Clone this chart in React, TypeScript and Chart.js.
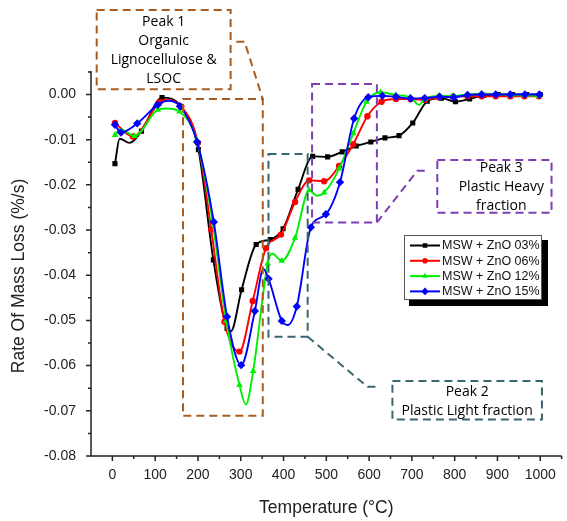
import React, { useEffect, useRef } from 'react';
import { Chart, registerables } from 'chart.js';

Chart.register(...registerables);

const FONT = '"Liberation Sans", Arial, Helvetica, sans-serif';
const NOTE_FONT = '"Open Sans", "Noto Sans", sans-serif';

// ---------------- data ----------------
const seriesLabels = ['MSW + ZnO 03%', 'MSW + ZnO 06%', 'MSW + ZnO 12%', 'MSW + ZnO 15%'];
const seriesColors = ['#000000', '#FF0000', '#00EE00', '#0000FF'];
const seriesMarkers = ['rect', 'circle', 'triangle', 'rectRot'];

// MSW + ZnO 03% (marked points)
const t03 = [6, 68, 116, 161, 201, 236, 268, 302, 336, 369, 399, 434, 468, 503, 537, 570, 604, 637, 670, 702, 736, 769, 802, 835, 868, 902, 935, 968, 1000];
const v03 = [-0.0153, -0.0081, -0.0007, -0.0027, -0.0122, -0.0366, -0.0518, -0.0432, -0.0332, -0.0321, -0.0297, -0.0210, -0.0137, -0.0138, -0.0127, -0.0114, -0.0105, -0.0096, -0.0091, -0.0063, -0.0015, -0.0008, -0.0016, -0.0010, -0.0002, 0.0000, 0.0000, 0.0000, 0.0000];
// unmarked bends of the smoothed curve
const bendT03 = [17, 40, 277];
const bendV03 = [-0.0098, -0.0107, -0.0524];

// MSW + ZnO 06%
const t06 = [6, 48, 110, 161, 200, 231, 262, 297, 328, 359, 394, 427, 460, 495, 530, 563, 596, 629, 663, 697, 730, 763, 796, 830, 863, 896, 930, 963, 997];
const v06 = [-0.0063, -0.0093, -0.0017, -0.0027, -0.0107, -0.0299, -0.0503, -0.0569, -0.0457, -0.0340, -0.0310, -0.0238, -0.0190, -0.0192, -0.0158, -0.0110, -0.0048, -0.0016, -0.0010, -0.0010, -0.0012, -0.0006, -0.0005, -0.0004, -0.0004, -0.0004, -0.0004, -0.0004, -0.0004];
const bendT06 = [122];
const bendV06 = [-0.0012];

// MSW + ZnO 12%
const t12 = [6, 52, 106, 157, 197, 233, 266, 297, 329, 363, 396, 427, 460, 495, 530, 563, 594, 627, 662, 696, 730, 763, 796, 830, 863, 896, 930, 963, 997];
const v12 = [-0.0090, -0.0092, -0.0034, -0.0038, -0.0101, -0.0274, -0.0501, -0.0643, -0.0612, -0.0374, -0.0368, -0.0317, -0.0212, -0.0217, -0.0164, -0.0086, -0.0016, 0.0005, -0.0001, -0.0006, -0.0010, -0.0003, -0.0003, 0.0000, 0.0002, 0.0001, -0.0001, -0.0002, -0.0003];
const bendT12 = [18, 128, 312, 373, 478, 717];
const bendV12 = [-0.0076, -0.0031, -0.0686, -0.0352, -0.0224, -0.0023];

// MSW + ZnO 15%
const t15 = [6, 20, 58, 106, 158, 198, 237, 268, 301, 333, 365, 396, 431, 464, 499, 532, 565, 598, 631, 663, 697, 730, 765, 798, 830, 863, 896, 930, 964, 998];
const v15 = [-0.0067, -0.0084, -0.0064, -0.0023, -0.0026, -0.0105, -0.0282, -0.0492, -0.0599, -0.0479, -0.0408, -0.0501, -0.0469, -0.0294, -0.0265, -0.0194, -0.0053, -0.0006, -0.0003, -0.0005, -0.0009, -0.0008, -0.0005, -0.0006, -0.0001, 0.0000, 0.0000, 0.0000, 0.0000, 0.0000];
const bendT15 = [130, 353, 410];
const bendV15 = [-0.0014, -0.0386, -0.0510];

// axes
const X_MIN = -50;
const X_MAX = 1050;
const Y_MIN = -0.08;
const Y_MAX = 0.0052;
const xTicks = [0, 100, 200, 300, 400, 500, 600, 700, 800, 900, 1000];
const xMinorTicks = [50, 150, 250, 350, 450, 550, 650, 750, 850, 950, 1050];
const yTicks = [0, -0.01, -0.02, -0.03, -0.04, -0.05, -0.06, -0.07, -0.08];
const yMinorTicks = [0.005, -0.005, -0.015, -0.025, -0.035, -0.045, -0.055, -0.065, -0.075];
const xTitle = 'Temperature (°C)';
const yTitle = 'Rate Of Mass Loss (%/s)';

// annotation callouts (data coordinates)
const BROWN = '#A85C1F';
const TEAL = '#3A6670';
const PURPLE = '#7D3DB3';
const notes = [
  {
    color: BROWN,
    box: [165, 351.5, -0.001, -0.0711],
    link: [[289.6, 0.0117], [308.9, 0.0117], [351.5, -0.001]],
    label: [-36.7, 276.3, 0.0187, 0.00115],
    text: ['Peak 1', 'Organic', 'Lignocellulose &', 'LSOC'],
    textX: null as number | null,
  },
  {
    color: TEAL,
    box: [364.8, 456.4, -0.01318, -0.0536],
    link: [[456.4, -0.0536], [596.3, -0.0647], [623.6, -0.0647]],
    label: [654.5, 1004, -0.0634, -0.0719],
    text: ['Peak 2', 'Plastic Light fraction'],
    textX: null as number | null,
  },
  {
    color: PURPLE,
    box: [466.7, 618.2, 0.00233, -0.0283],
    link: [[618.2, -0.0283], [712.8, -0.01687], [736, -0.01687]],
    label: [759.4, 1026.4, -0.0145, -0.02617],
    text: ['Peak 3', 'Plastic Heavy', 'fraction'],
    textX: 909 as number | null,
  },
];

function buildPoints(t: number[], v: number[], bt: number[], bv: number[]) {
  const pts = t.map((x, i) => ({ x, y: v[i], m: true }));
  bt.forEach((x, i) => pts.push({ x, y: bv[i], m: false }));
  pts.sort((a, b) => a.x - b.x);
  return pts;
}

const allSeries = [
  buildPoints(t03, v03, bendT03, bendV03),
  buildPoints(t06, v06, bendT06, bendV06),
  buildPoints(t12, v12, bendT12, bendV12),
  buildPoints(t15, v15, bendT15, bendV15),
];
const markerRadius = [3.6, 3.2, 3.8, 4.2];

function drawMarker(ctx: CanvasRenderingContext2D, style: string, x: number, y: number, r: number, color: string) {
  ctx.save();
  ctx.fillStyle = color;
  ctx.beginPath();
  if (style === 'rect') {
    const s = r * Math.SQRT1_2;
    ctx.rect(x - s, y - s, 2 * s, 2 * s);
  } else if (style === 'circle') {
    ctx.arc(x, y, r, 0, Math.PI * 2);
  } else if (style === 'triangle') {
    ctx.moveTo(x, y - r);
    ctx.lineTo(x + r * 0.866, y + r * 0.5);
    ctx.lineTo(x - r * 0.866, y + r * 0.5);
    ctx.closePath();
  } else {
    ctx.moveTo(x, y - r);
    ctx.lineTo(x + r, y);
    ctx.lineTo(x, y + r);
    ctx.lineTo(x - r, y);
    ctx.closePath();
  }
  ctx.fill();
  ctx.restore();
}

const decorPlugin = {
  id: 'decor',
  afterDatasetsDraw(chart: any) {
    const { ctx, scales } = chart;
    const xs = scales.x;
    const ys = scales.y;
    const px = (v: number) => xs.getPixelForValue(v);
    const py = (v: number) => ys.getPixelForValue(v);
    ctx.save();
    ctx.lineWidth = 2;
    ctx.setLineDash([8, 5]);
    notes.forEach((n) => {
      ctx.strokeStyle = n.color;
      const [bx0, bx1, by0, by1] = n.box;
      ctx.strokeRect(px(bx0), py(by0), px(bx1) - px(bx0), py(by1) - py(by0));
      ctx.beginPath();
      n.link.forEach(([a, b], i) => (i === 0 ? ctx.moveTo(px(a), py(b)) : ctx.lineTo(px(a), py(b))));
      ctx.stroke();
      const [lx0, lx1, ly0, ly1] = n.label;
      const L = px(lx0), R = px(lx1), T = py(ly0), B = py(ly1);
      ctx.strokeRect(L, T, R - L, B - T);
      ctx.save();
      ctx.setLineDash([]);
      ctx.fillStyle = '#000';
      ctx.font = `14px ${NOTE_FONT}`;
      ctx.textAlign = 'center';
      ctx.textBaseline = 'middle';
      const cx = n.textX !== null ? px(n.textX) : (L + R) / 2;
      const cy = (T + B) / 2 + 1;
      const lh = 19;
      n.text.forEach((s, i) => {
        ctx.fillText(s, cx, cy + (i - (n.text.length - 1) / 2) * lh);
      });
      ctx.restore();
    });
    ctx.restore();
  },
  afterDraw(chart: any) {
    const { ctx, chartArea, scales } = chart;
    const xs = scales.x;
    const ys = scales.y;
    ctx.save();
    ctx.strokeStyle = '#222';
    ctx.lineWidth = 1.5;
    ctx.setLineDash([]);
    // axis lines
    ctx.beginPath();
    ctx.moveTo(chartArea.left, chartArea.top);
    ctx.lineTo(chartArea.left, chartArea.bottom);
    ctx.lineTo(chartArea.right, chartArea.bottom);
    ctx.stroke();
    // ticks
    ctx.beginPath();
    xTicks.forEach((v) => {
      const x = xs.getPixelForValue(v);
      ctx.moveTo(x, chartArea.bottom);
      ctx.lineTo(x, chartArea.bottom + 5);
    });
    xMinorTicks.forEach((v) => {
      const x = xs.getPixelForValue(v);
      ctx.moveTo(x, chartArea.bottom);
      ctx.lineTo(x, chartArea.bottom + 3);
    });
    yTicks.forEach((v) => {
      const y = ys.getPixelForValue(v);
      ctx.moveTo(chartArea.left, y);
      ctx.lineTo(chartArea.left - 5, y);
    });
    yMinorTicks.forEach((v) => {
      const y = ys.getPixelForValue(v);
      ctx.moveTo(chartArea.left, y);
      ctx.lineTo(chartArea.left - 3, y);
    });
    ctx.stroke();

    // axis titles
    ctx.fillStyle = '#222';
    ctx.font = `17.5px ${FONT}`;
    ctx.textAlign = 'center';
    ctx.textBaseline = 'middle';
    ctx.fillText(xTitle, (chartArea.left + chartArea.right) / 2, 508);
    ctx.save();
    ctx.translate(19, 276);
    ctx.rotate(-Math.PI / 2);
    ctx.fillText(yTitle, 0, 0);
    ctx.restore();

    // legend
    const lx = 404, ly = 235, lw = 138, lh = 65;
    ctx.fillStyle = '#000';
    ctx.fillRect(lx + 5, ly + 5, lw + 1, lh + 1);
    ctx.fillStyle = '#fff';
    ctx.fillRect(lx, ly, lw, lh);
    ctx.strokeStyle = '#555';
    ctx.lineWidth = 1;
    ctx.strokeRect(lx + 0.5, ly + 0.5, lw - 1, lh - 1);
    ctx.font = `12.5px ${FONT}`;
    ctx.textAlign = 'left';
    ctx.textBaseline = 'middle';
    seriesLabels.forEach((label, i) => {
      const y = ly + 10.5 + i * 15.3;
      ctx.strokeStyle = seriesColors[i];
      ctx.lineWidth = 2;
      ctx.beginPath();
      ctx.moveTo(lx + 6, y);
      ctx.lineTo(lx + 36, y);
      ctx.stroke();
      drawMarker(ctx, seriesMarkers[i], lx + 21, y, markerRadius[i] - 0.4, seriesColors[i]);
      ctx.fillStyle = '#111';
      ctx.fillText(label, lx + 38, y + 0.5);
    });
    ctx.restore();
  },
};

export default function App() {
  const ref = useRef<HTMLCanvasElement>(null);
  useEffect(() => {
    const canvas = ref.current;
    if (!canvas) return;
    const chart = new Chart(canvas, {
      type: 'line',
      data: {
        datasets: allSeries.map((pts, i) => ({
          label: seriesLabels[i],
          data: pts as any,
          borderColor: seriesColors[i],
          backgroundColor: seriesColors[i],
          borderWidth: 1.9,
          pointStyle: seriesMarkers[i] as any,
          pointRadius: (c: any) => (c.raw && c.raw.m ? markerRadius[i] : 0),
          pointBorderWidth: 0,
          pointBackgroundColor: seriesColors[i],
          cubicInterpolationMode: 'monotone' as const,
          fill: false,
          order: 3 - i,
        })),
      },
      options: {
        responsive: false,
        animation: false,
        devicePixelRatio: 1,
        parsing: { xAxisKey: 'x', yAxisKey: 'y' } as any,
        layout: { padding: { top: 71, right: 4, left: 0, bottom: 0 } },
        plugins: { legend: { display: false }, tooltip: { enabled: false }, title: { display: false } },
        scales: {
          x: {
            type: 'linear',
            min: X_MIN,
            max: X_MAX,
            afterBuildTicks: (s: any) => { s.ticks = xTicks.map((v) => ({ value: v })); },
            afterFit: (s: any) => { s.height = 65; },
            grid: { display: false, drawTicks: false },
            border: { display: false },
            ticks: {
              autoSkip: false,
              maxRotation: 0,
              padding: 11,
              color: '#222',
              font: { family: FONT, size: 14 },
              callback: (v: any) => String(v),
            },
          },
          y: {
            type: 'linear',
            min: Y_MIN,
            max: Y_MAX,
            afterBuildTicks: (s: any) => { s.ticks = yTicks.map((v) => ({ value: v })); },
            afterFit: (s: any) => { s.width = 91; },
            grid: { display: false, drawTicks: false },
            border: { display: false },
            ticks: {
              autoSkip: false,
              padding: 15,
              color: '#222',
              font: { family: FONT, size: 14 },
              callback: (v: any) => Number(v).toFixed(2),
            },
          },
        },
      },
      plugins: [decorPlugin],
    });
    return () => chart.destroy();
  }, []);
  return (
    <div style={{ position: 'absolute', left: 0, top: 0, width: 567, height: 521, background: '#fff' }}>
      <canvas ref={ref} width={567} height={521} style={{ display: 'block' }} />
    </div>
  );
}
